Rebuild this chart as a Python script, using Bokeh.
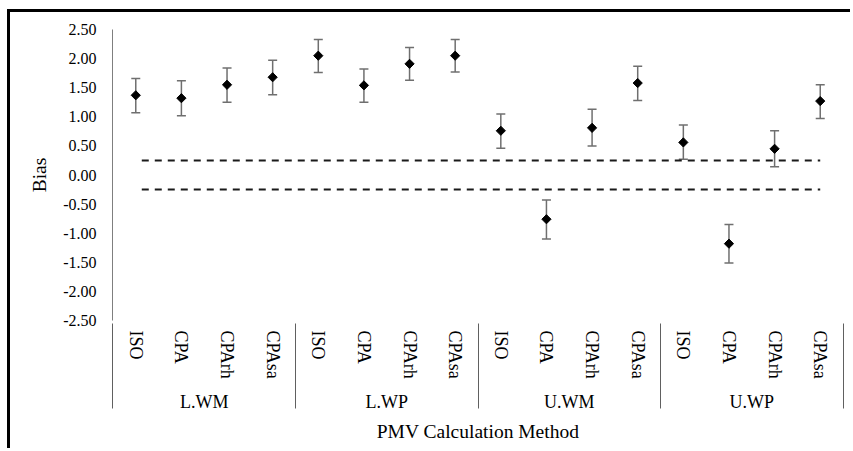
import math
from bokeh.plotting import figure
from bokeh.models import (ColumnDataSource, FactorRange, Range1d, FixedTicker,
                          NumeralTickFormatter, Whisker, TeeHead)
from bokeh.embed import file_html
from bokeh.resources import INLINE

groups = ["L.WM", "L.WP", "U.WM", "U.WP"]
methods = ["ISO", "CPA", "CPArh", "CPAsa"]
bias = [1.37, 1.32, 1.55, 1.68, 2.05, 1.54, 1.91, 2.05,
        0.76, -0.76, 0.81, 1.58, 0.56, -1.18, 0.45, 1.27]
upper = [1.66, 1.62, 1.84, 1.97, 2.33, 1.82, 2.19, 2.33,
         1.05, -0.43, 1.13, 1.87, 0.86, -0.85, 0.76, 1.55]
lower = [1.07, 1.02, 1.25, 1.38, 1.76, 1.25, 1.63, 1.77,
         0.46, -1.10, 0.50, 1.28, 0.27, -1.51, 0.14, 0.97]
y_ticks = [2.5, 2.0, 1.5, 1.0, 0.5, 0.0, -0.5, -1.0, -1.5, -2.0, -2.5]
limits = [0.25, -0.25]

SERIF = "Liberation Serif"
factors = [(g, m) for g in groups for m in methods]
# blank outer groups (kept just outside the visible range) so that the
# category axis also draws its divider lines at both ends
edge_left, edge_right = (" ", " "), ("  ", " ")
src = ColumnDataSource(dict(x=factors, bias=bias, upper=upper, lower=lower))

x_range = FactorRange(edge_left, *factors, edge_right, factor_padding=0,
                      group_padding=0, subgroup_padding=0,
                      range_padding=-0.99, range_padding_units="absolute")

p = figure(width=843, height=439, x_range=x_range,
           y_range=Range1d(y_ticks[-1], y_ticks[0]),
           output_backend="svg", toolbar_location=None,
           min_border_left=102, min_border_right=10,
           min_border_top=17, min_border_bottom=131)
p.styles = {"margin-left": "7px", "margin-top": "9px",
            "border-left": "3px solid black", "border-top": "3px solid black"}
p.outline_line_color = None
p.xgrid.visible = False
p.ygrid.visible = False
p.background_fill_color = "white"
p.border_fill_color = "white"

# dashed limit lines
for lim in limits:
    p.line(x=[factors[0], factors[-1]], y=[lim, lim], line_color="#1a1a1a",
           line_width=2, line_dash="7 6", line_dash_offset=7)

# error bars
head = dict(size=9, line_color="#6f6f6f", line_width=1.5)
p.add_layout(Whisker(base="x", upper="upper", lower="lower", source=src,
                     line_color="#6f6f6f", line_width=1.5,
                     upper_head=TeeHead(**head), lower_head=TeeHead(**head)))

# diamond markers
p.scatter(x="x", y="bias", source=src, marker="square", angle=math.pi / 4,
          size=6.5, fill_color="black", line_color="black")

# y axis
ya = p.yaxis[0]
ya.ticker = FixedTicker(ticks=y_ticks)
ya.formatter = NumeralTickFormatter(format="0.00")
ya.axis_line_color = "#7f7f7f"
ya.major_tick_line_color = None
ya.minor_tick_line_color = None
ya.major_tick_out = 0
ya.major_label_standoff = 16
ya.major_label_text_font = SERIF
ya.major_label_text_font_size = "16px"
ya.major_label_text_color = "black"
ya.axis_label = "Bias"
ya.axis_label_text_font = SERIF
ya.axis_label_text_font_size = "19.5px"
ya.axis_label_text_font_style = "normal"
ya.axis_label_text_color = "black"
ya.axis_label_standoff = 10

# x axis
xa = p.xaxis[0]
xa.axis_line_color = None
xa.major_tick_line_color = None
xa.major_tick_out = 0
xa.major_label_orientation = "vertical"
xa.major_label_standoff = 10
xa.major_label_text_font = SERIF
xa.major_label_text_font_size = "18px"
xa.major_label_text_color = "black"
xa.group_text_font = SERIF
xa.group_text_font_size = "18px"
xa.group_text_font_style = "normal"
xa.group_text_color = "black"
xa.separator_line_color = "#606060"
xa.separator_line_width = 1
xa.axis_label = "PMV Calculation Method"
xa.axis_label_text_font = SERIF
xa.axis_label_text_font_size = "19.5px"
xa.axis_label_text_font_style = "normal"
xa.axis_label_text_color = "black"
xa.axis_label_standoff = 6

open("out.html", "w").write(file_html(p, INLINE))
